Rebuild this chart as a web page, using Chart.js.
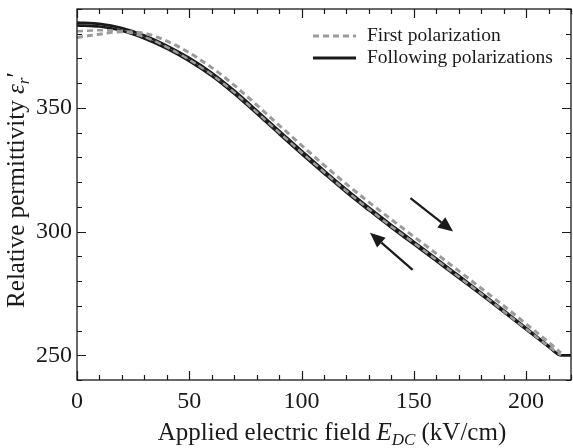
<!DOCTYPE html>
<html>
<head>
<meta charset="utf-8">
<script src="https://cdn.jsdelivr.net/npm/chart.js@4.4.0/dist/chart.umd.min.js"></script>
<style>
  html, body { margin: 0; padding: 0; background: #fff; }
  #wrap { width: 573px; height: 448px; position: relative; }
</style>
</head>
<body>
<div id="wrap"><canvas id="permChart"></canvas></div>
<script>
// field values (kV/cm) for the sampled curves
const fieldFollow = [0, 10, 20, 30, 40, 50, 60, 70, 80, 90, 100, 110, 120, 130, 140, 150, 160, 170, 180, 190, 200, 210, 215.5, 220];
// following polarizations, two sweeps (black)
const followUpper = [384.5, 384, 382.3, 379.3, 375.2, 370.2, 364.2, 357, 349, 340.8, 332.7, 324.7, 317, 309.7, 302.7, 295.9, 289.1, 282.2, 275.3, 268.2, 261, 253.8, 250, 250];
const followLower = [383.4, 382.9, 381.2, 378.1, 374, 368.9, 362.9, 355.7, 347.7, 339.5, 331.4, 323.5, 315.8, 308.6, 301.6, 294.9, 288.1, 281.3, 274.5, 267.5, 260.4, 253.4, 250, 250];

const fieldFirst = [0, 10, 20, 30, 40, 50, 60, 70, 80, 90, 100, 110, 120, 130, 140, 150, 160, 170, 180, 190, 200, 210, 215.5];
// first polarization (grey dashed), rising sweep and returning sweep
const firstRise = [378.5, 379.8, 380.8, 380.2, 377, 372.3, 366.3, 359.2, 351.2, 343, 334.9, 326.9, 319.2, 311.9, 304.9, 298, 291.1, 284.1, 277.1, 270, 262.7, 255.3, 251];
const firstReturn = [381, 381.4, 381, 378.7, 374.6, 369.5, 363.5, 356.3, 348.3, 340.1, 332, 324.1, 316.4, 309.1, 302.1, 295.4, 288.6, 281.7, 274.9, 267.8, 260.7, 253.6, 250];

// axis ticks
const xMajor = [0, 50, 100, 150, 200];
const yMajor = [250, 300, 350];

// sweep direction arrows, [fromField, fromEps, toField, toEps]
const arrows = [
  [148.5, 313.5, 167.5, 300],
  [149.5, 284.5, 130.5, 299.5]
];

const legendItems = ['First polarization', 'Following polarizations'];

const grey = '#9b9b9b';
const ink = '#1a1a1a';
const serif = '"Liberation Serif", "Times New Roman", serif';

function pts(xs, ys) {
  return xs.map((x, i) => ({ x: x, y: ys[i] }));
}

// draw a run of text segments (plain/italic/subscript) centred on (cx, cy)
function richText(ctx, segs, cx, cy, angle) {
  ctx.save();
  ctx.translate(cx, cy);
  ctx.rotate(angle);
  let total = 0;
  segs.forEach(s => {
    ctx.font = (s.italic ? 'italic ' : '') + s.size + 'px ' + serif;
    s.w = ctx.measureText(s.t).width;
    total += s.w;
  });
  let x = -total / 2;
  ctx.fillStyle = ink;
  ctx.textBaseline = 'alphabetic';
  ctx.textAlign = 'left';
  segs.forEach(s => {
    ctx.font = (s.italic ? 'italic ' : '') + s.size + 'px ' + serif;
    ctx.fillText(s.t, x, s.dy || 0);
    x += s.w;
  });
  ctx.restore();
}

const framePlugin = {
  id: 'frame',
  afterDraw(chart) {
    const ctx = chart.ctx;
    const xs = chart.scales.x, ys = chart.scales.y;
    const a = chart.chartArea;
    ctx.save();
    ctx.strokeStyle = ink;
    ctx.lineWidth = 1.3;
    ctx.strokeRect(a.left, a.top, a.right - a.left, a.bottom - a.top);

    // inward ticks on all four sides
    ctx.lineWidth = 1.2;
    for (let v = xs.min; v <= xs.max; v += 10) {
      const p = Math.round(xs.getPixelForValue(v)) + 0.5;
      const len = v % 50 === 0 ? 9 : 5;
      ctx.beginPath();
      ctx.moveTo(p, a.bottom); ctx.lineTo(p, a.bottom - len);
      ctx.moveTo(p, a.top); ctx.lineTo(p, a.top + len);
      ctx.stroke();
    }
    for (let v = ys.min; v <= ys.max; v += 10) {
      const p = Math.round(ys.getPixelForValue(v)) + 0.5;
      const len = v % 50 === 0 ? 9 : 5;
      ctx.beginPath();
      ctx.moveTo(a.left, p); ctx.lineTo(a.left + len, p);
      ctx.moveTo(a.right, p); ctx.lineTo(a.right - len, p);
      ctx.stroke();
    }

    // arrows
    ctx.strokeStyle = ink;
    ctx.fillStyle = ink;
    ctx.lineWidth = 2.2;
    arrows.forEach(ar => {
      const x0 = xs.getPixelForValue(ar[0]), y0 = ys.getPixelForValue(ar[1]);
      const x1 = xs.getPixelForValue(ar[2]), y1 = ys.getPixelForValue(ar[3]);
      const ang = Math.atan2(y1 - y0, x1 - x0);
      const head = 15, half = 6.5;
      const bx = x1 - head * Math.cos(ang), by = y1 - head * Math.sin(ang);
      ctx.beginPath();
      ctx.moveTo(x0, y0); ctx.lineTo(bx, by);
      ctx.stroke();
      ctx.beginPath();
      ctx.moveTo(x1, y1);
      ctx.lineTo(bx + half * Math.sin(ang), by - half * Math.cos(ang));
      ctx.lineTo(bx - half * Math.sin(ang), by + half * Math.cos(ang));
      ctx.closePath();
      ctx.fill();
    });

    // legend
    ctx.lineWidth = 3;
    ctx.strokeStyle = grey;
    ctx.setLineDash([6, 4]);
    ctx.beginPath(); ctx.moveTo(313, 36); ctx.lineTo(356, 36); ctx.stroke();
    ctx.setLineDash([]);
    ctx.strokeStyle = ink;
    ctx.beginPath(); ctx.moveTo(313, 58); ctx.lineTo(356, 58); ctx.stroke();
    ctx.fillStyle = ink;
    ctx.font = '19.5px ' + serif;
    ctx.textBaseline = 'middle';
    ctx.fillText(legendItems[0], 367, 36);
    ctx.fillText(legendItems[1], 367, 58);

    // axis titles
    richText(ctx, [
      { t: 'Applied electric field ', size: 25 },
      { t: 'E', size: 25, italic: true },
      { t: 'DC', size: 17, italic: true, dy: 5 },
      { t: ' (kV/cm)', size: 25 }
    ], 332, 440, 0);
    richText(ctx, [
      { t: 'Relative permittivity ', size: 25 },
      { t: '\u03b5', size: 25, italic: true },
      { t: 'r', size: 17, italic: true, dy: 5 },
      { t: '\u2032', size: 25 }
    ], 24, 190, -Math.PI / 2);
    ctx.restore();
  }
};

const lineSet = (label, xs, ys, color, width, dash) => ({
  label: label,
  data: pts(xs, ys),
  showLine: true,
  borderColor: color,
  borderWidth: width,
  borderDash: dash,
  pointRadius: 0,
  cubicInterpolationMode: 'monotone',
  fill: false
});

new Chart(document.getElementById('permChart'), {
  type: 'scatter',
  data: {
    datasets: [
      lineSet('First polarization', fieldFirst, firstRise, grey, 3, [6, 4]),
      lineSet('First polarization (return)', fieldFirst, firstReturn, grey, 2.5, [6, 4]),
      lineSet('Following polarizations', fieldFollow, followUpper, ink, 2.6, []),
      lineSet('Following polarizations (return)', fieldFollow, followLower, ink, 2.6, [])
    ]
  },
  options: {
    responsive: true,
    maintainAspectRatio: false,
    animation: false,
    layout: { padding: { left: 0, right: 2, top: 9, bottom: 0 } },
    plugins: {
      legend: { display: false },
      tooltip: { enabled: false }
    },
    scales: {
      x: {
        type: 'linear',
        min: 0,
        max: 220,
        afterFit: s => { s.height = 68; s.paddingLeft = 0; s.paddingRight = 0; },
        afterBuildTicks: s => { s.ticks = xMajor.map(v => ({ value: v })); },
        grid: { display: false, drawTicks: false },
        border: { display: false },
        ticks: {
          padding: 7,
          color: ink,
          maxRotation: 0,
          font: { family: serif, size: 24 }
        }
      },
      y: {
        type: 'linear',
        min: 240,
        max: 390,
        afterFit: s => { s.width = 77; s.paddingTop = 0; s.paddingBottom = 0; },
        afterBuildTicks: s => { s.ticks = yMajor.map(v => ({ value: v })); },
        grid: { display: false, drawTicks: false },
        border: { display: false },
        ticks: {
          padding: 5,
          color: ink,
          font: { family: serif, size: 24 }
        }
      }
    }
  },
  plugins: [framePlugin]
});
</script>
</body>
</html>
